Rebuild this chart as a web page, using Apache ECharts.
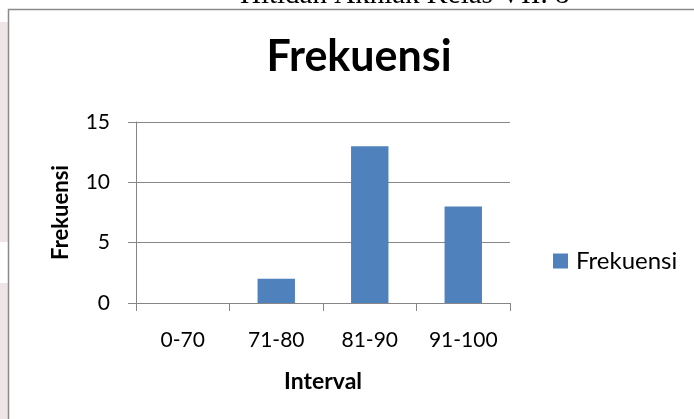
<!DOCTYPE html>
<html>
<head>
<meta charset="utf-8">
<script src="https://cdn.jsdelivr.net/npm/echarts@6/dist/echarts.min.js"></script>
<style>
  html, body { margin: 0; padding: 0; background: #fff; }
  #chart { width: 694px; height: 419px; }
</style>
</head>
<body>
<div id="chart"></div>
<script>
// data
const intervals = ['0-70', '71-80', '81-90', '91-100'];
const frekuensi = [0, 2, 13, 8];
const yTicks = [0, 5, 10, 15];

const font = 'Lato, "Open Sans", sans-serif';
const chart = echarts.init(document.getElementById('chart'));

chart.setOption({
  animation: false,
  backgroundColor: '#fff',
  title: {
    text: 'Frekuensi',
    left: 354,
    top: 31,
    textAlign: 'center',
    textStyle: { fontFamily: font, fontWeight: 'bold', fontSize: 43, color: '#000' }
  },
  legend: {
    left: 553,
    top: 249,
    padding: 0,
    icon: 'rect',
    itemWidth: 15,
    itemHeight: 15,
    itemGap: 6,
    textStyle: { fontFamily: font, fontSize: 24, color: '#000', padding: [0, 0, 0, 3] },
    data: ['Frekuensi']
  },
  grid: { left: 136, right: 184, top: 122, bottom: 116 },
  xAxis: {
    type: 'category',
    data: intervals,
    name: 'Interval',
    nameLocation: 'middle',
    nameGap: 67,
    nameTextStyle: { fontFamily: font, fontWeight: 'bold', fontSize: 23, color: '#000' },
    axisLine: { lineStyle: { color: '#868686', width: 1 } },
    axisTick: { show: true, length: 8, lineStyle: { color: '#868686' } },
    axisLabel: { fontFamily: font, fontSize: 21, color: '#000', margin: 27 }
  },
  yAxis: {
    type: 'value',
    min: yTicks[0],
    max: yTicks[yTicks.length - 1],
    interval: 5,
    name: 'Frekuensi',
    nameLocation: 'middle',
    nameGap: 64,
    nameTextStyle: { fontFamily: font, fontWeight: 'bold', fontSize: 22, color: '#000' },
    axisLine: { show: true, lineStyle: { color: '#868686', width: 1 } },
    axisTick: { show: true, length: 8, lineStyle: { color: '#868686' } },
    axisLabel: { fontFamily: font, fontSize: 21, color: '#000', margin: 26 },
    splitLine: { show: true, lineStyle: { color: '#868686', width: 1 } }
  },
  series: [
    {
      name: 'Frekuensi',
      type: 'bar',
      data: frekuensi,
      barCategoryGap: '60%',
      itemStyle: { color: '#4f81bd' }
    }
  ],
  graphic: [
    // pinkish page margin on the left
    { type: 'rect', left: 0, top: 22, shape: { width: 8, height: 220 }, style: { fill: '#efe5e7' }, silent: true },
    { type: 'rect', left: 0, top: 283, shape: { width: 8, height: 136 }, style: { fill: '#efe5e7' }, silent: true },
    // chart frame
    { type: 'rect', shape: { x: 8.5, y: 9.5, width: 700, height: 420 }, style: { fill: 'none', stroke: '#8a8a8a', lineWidth: 1.5 }, silent: true },
    // cut-off caption above the chart
    {
      type: 'text',
      left: 240,
      top: -19,
      style: { text: 'Hitidan Akhlak Kelas VII. 8', fill: '#000', font: '29px "Liberation Serif", "DejaVu Serif", serif' },
      silent: true
    }
  ]
});
</script>
</body>
</html>
